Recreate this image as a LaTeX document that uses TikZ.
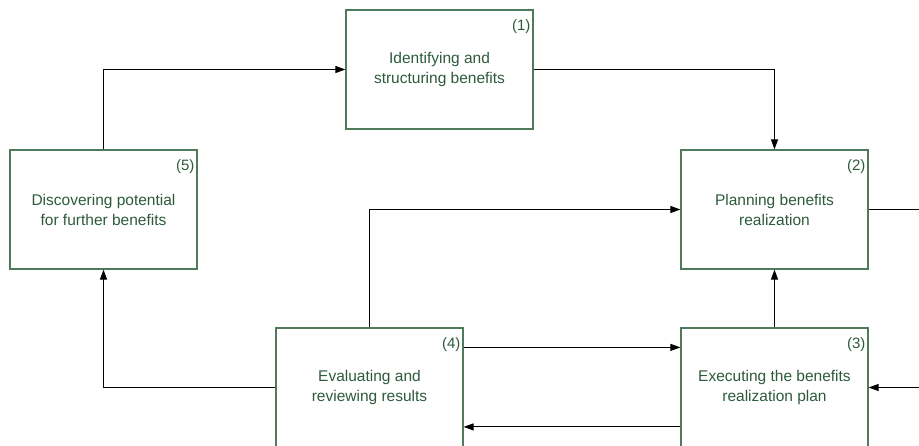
\documentclass[tikz,border=0pt]{standalone}
\usepackage{fontspec}
\setmainfont{Liberation Sans}
\usetikzlibrary{arrows.meta,calc}
\definecolor{boxline}{HTML}{4F7A5C}
\definecolor{boxtext}{HTML}{2D5A3C}
\begin{document}
\begin{tikzpicture}[x=1pt,y=-1pt,
  stepbox/.style={draw=boxline, line width=1.2pt, minimum width=187pt, minimum height=119pt,
    align=center, text=boxtext, inner sep=0pt, font=\fontsize{15.5}{20}\selectfont},
  num/.style={text=boxtext, inner sep=0pt, font=\fontsize{15}{18}\selectfont, anchor=base east},
  conn/.style={draw=black, line width=1pt, -{Triangle[length=10pt,width=7pt]}},
  plain/.style={draw=black, line width=1pt}]
\useasboundingbox (0,0) rectangle (919,446);
\clip (0,0) rectangle (919,446);
\node[stepbox] (b1) at (439.5,69.5) {Identifying and\\structuring benefits};
\node[stepbox] (b5) at (103.5,209.5) {Discovering potential\\for further benefits};
\node[stepbox] (b2) at (774.5,209.5) {Planning benefits\\realization};
\node[stepbox] (b4) at (369.5,387.5) {Evaluating and\\reviewing results};
\node[stepbox] (b3) at (774.5,387.5) {Executing the benefits\\realization plan};
\node[num] (n1) at ([xshift=-3pt,yshift=-21pt]b1.north east) {(1)};
\node[num] (n2) at ([xshift=-3pt,yshift=-21pt]b2.north east) {(2)};
\node[num] (n3) at ([xshift=-3pt,yshift=-21pt]b3.north east) {(3)};
\node[num] (n4) at ([xshift=-3pt,yshift=-21pt]b4.north east) {(4)};
\node[num] (n5) at ([xshift=-3pt,yshift=-21pt]b5.north east) {(5)};
\coordinate (r1) at (919,209.5);
\coordinate (r2) at (919,387.5);
\draw[conn] (b5.north) |- (b1.west);
\draw[conn] (b1.east) -| (b2.north);
\draw[conn] (b4.north) |- (b2.west);
\draw[conn] (b4.west) -| (b5.south);
\draw[conn] (b3.north) -- (b2.south);
\draw[conn] ([yshift=-20pt]b4.north east) -- ([yshift=-20pt]b3.north west);
\draw[conn] ([yshift=-99.5pt]b3.north west) -- ([yshift=-99.5pt]b4.north east);
\draw[plain] (b2.east) -- (r1);
\draw[conn] (r2) -- (b3.east);
\end{tikzpicture}
\end{document}
